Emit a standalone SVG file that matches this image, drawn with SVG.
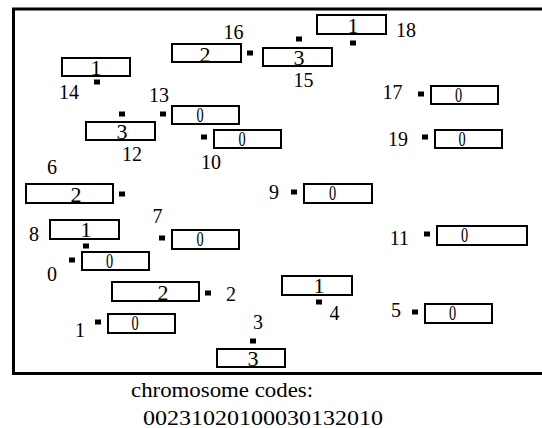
<svg xmlns="http://www.w3.org/2000/svg" width="542" height="428" viewBox="0 0 542 428">
<style>
.box{fill:#fff;stroke:#000;stroke-width:2}
.dot{fill:#000}
.lbl{font-family:"Liberation Serif","Times New Roman",serif;font-size:20px;fill:#000;text-anchor:middle}
.in{font-family:"Liberation Serif","Times New Roman",serif;font-size:22px;fill:#000;text-anchor:middle}
.zero{font-family:"Liberation Serif","Times New Roman",serif;font-size:22px;fill:#000;text-anchor:middle}
.frame{fill:none;stroke:#000;stroke-width:3}
.cap{font-family:"Liberation Serif","Times New Roman",serif;font-size:20px;fill:#000}
</style>
<rect width="542" height="428" fill="#fff"/>
<path class="frame" d="M542 9 H13.5 V373.5 H542"/>

<g id="n18"><rect class="box" x="317" y="15" width="69" height="19"/><text class="in" x="353" y="33">1</text><rect class="dot" x="350" y="40.5" width="6" height="5"/><text class="lbl" x="406" y="37">18</text></g>
<g id="n16"><rect class="box" x="172" y="44" width="69" height="18"/><text class="in" x="205" y="62">2</text><rect class="dot" x="247" y="50.5" width="6" height="5"/><text class="lbl" x="233.5" y="39">16</text></g>
<g id="n15"><rect class="box" x="263" y="48" width="69" height="18"/><text class="in" x="299" y="65">3</text><rect class="dot" x="296" y="36.5" width="6" height="5"/><text class="lbl" x="303.5" y="87">15</text></g>
<g id="n14"><rect class="box" x="62" y="58" width="68" height="18"/><text class="in" x="96" y="75">1</text><rect class="dot" x="94" y="79.5" width="6" height="5"/><text class="lbl" x="69" y="99">14</text></g>
<g id="n13"><rect class="box" x="172" y="106" width="67" height="18"/><text class="zero" transform="translate(200,122) scale(0.65,1)">0</text><rect class="dot" x="160" y="111.5" width="6" height="5"/><text class="lbl" x="159" y="102">13</text></g>
<g id="n12"><rect class="box" x="86" y="122" width="69" height="18"/><text class="in" x="122" y="139">3</text><rect class="dot" x="119" y="111.5" width="6" height="5"/><text class="lbl" x="132" y="161">12</text></g>
<g id="n10"><rect class="box" x="214" y="130" width="67" height="18"/><text class="zero" transform="translate(242,146) scale(0.65,1)">0</text><rect class="dot" x="201" y="134.5" width="6" height="5"/><text class="lbl" x="211" y="169">10</text></g>
<g id="n17"><rect class="box" x="431" y="86" width="67" height="18"/><text class="zero" transform="translate(458.5,102) scale(0.65,1)">0</text><rect class="dot" x="418" y="91.5" width="6" height="5"/><text class="lbl" x="392.5" y="99">17</text></g>
<g id="n19"><rect class="box" x="435" y="130" width="67" height="18"/><text class="zero" transform="translate(462,146) scale(0.65,1)">0</text><rect class="dot" x="422" y="134.5" width="6" height="5"/><text class="lbl" x="398" y="146">19</text></g>
<g id="n6"><rect class="box" x="26" y="184" width="87" height="19"/><text class="in" x="76" y="202">2</text><rect class="dot" x="119" y="191.5" width="6" height="5"/><text class="lbl" x="52" y="174">6</text></g>
<g id="n8"><rect class="box" x="50" y="220" width="69" height="19"/><text class="in" x="86" y="237">1</text><rect class="dot" x="83" y="243.5" width="6" height="5"/><text class="lbl" x="34" y="241">8</text></g>
<g id="n7"><rect class="box" x="172" y="230" width="67" height="19"/><text class="zero" transform="translate(200,246) scale(0.65,1)">0</text><rect class="dot" x="159" y="235.5" width="6" height="5"/><text class="lbl" x="157.5" y="223">7</text></g>
<g id="n0"><rect class="box" x="82" y="252" width="67" height="18"/><text class="zero" transform="translate(109.5,268) scale(0.65,1)">0</text><rect class="dot" x="69" y="257.5" width="6" height="5"/><text class="lbl" x="52" y="281">0</text></g>
<g id="n2"><rect class="box" x="112" y="282" width="87" height="19"/><text class="in" x="163" y="300">2</text><rect class="dot" x="205" y="290.5" width="6" height="5"/><text class="lbl" x="231" y="301">2</text></g>
<g id="n1"><rect class="box" x="108" y="314" width="67" height="19"/><text class="zero" transform="translate(135,330) scale(0.65,1)">0</text><rect class="dot" x="95" y="319.5" width="6" height="5"/><text class="lbl" x="80" y="337">1</text></g>
<g id="n3"><rect class="box" x="217" y="349" width="68" height="18"/><text class="in" x="253" y="366">3</text><rect class="dot" x="250" y="338.5" width="6" height="5"/><text class="lbl" x="258" y="329">3</text></g>
<g id="n9"><rect class="box" x="304" y="184" width="68" height="19"/><text class="zero" transform="translate(332.5,200) scale(0.65,1)">0</text><rect class="dot" x="291" y="189.5" width="6" height="5"/><text class="lbl" x="274" y="199">9</text></g>
<g id="n11"><rect class="box" x="437" y="226" width="90" height="19"/><text class="zero" transform="translate(464.5,242) scale(0.65,1)">0</text><rect class="dot" x="424" y="231.5" width="6" height="5"/><text class="lbl" x="399.5" y="245">11</text></g>
<g id="n4"><rect class="box" x="282" y="276" width="70" height="19"/><text class="in" x="319" y="293">1</text><rect class="dot" x="316" y="299.5" width="6" height="5"/><text class="lbl" x="334.5" y="320">4</text></g>
<g id="n5"><rect class="box" x="425" y="304" width="67" height="19"/><text class="zero" transform="translate(452.5,320) scale(0.65,1)">0</text><rect class="dot" x="412" y="309.5" width="6" height="5"/><text class="lbl" x="396" y="317">5</text></g>

<g id="connectors"/>
<text class="cap" x="131" y="397" textLength="182" lengthAdjust="spacingAndGlyphs">chromosome codes:</text>
<text class="cap" x="143" y="425" textLength="240" lengthAdjust="spacingAndGlyphs">00231020100030132010</text>
</svg>
